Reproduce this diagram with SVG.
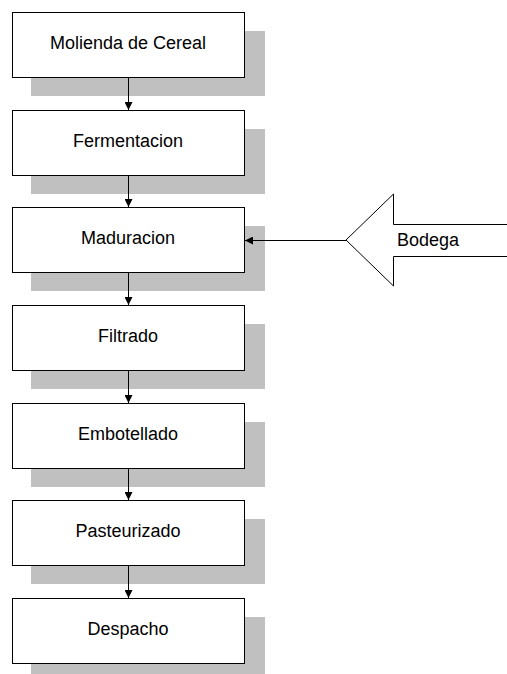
<svg xmlns="http://www.w3.org/2000/svg" width="507" height="674" viewBox="0 0 507 674">
<defs>
<style>
.sh{fill:#c0c0c0;stroke:none}
.bx{fill:#fff;stroke:#000;stroke-width:1}
.t{font-family:"Liberation Sans",Arial,sans-serif;font-size:18px;fill:#000;text-anchor:middle}
.c{stroke:#000;stroke-width:1;fill:none}
</style>
<marker id="ah" viewBox="0 0 10 10" refX="10" refY="5" markerWidth="8" markerHeight="8" markerUnits="userSpaceOnUse" orient="auto">
<path d="M0,0 L10,5 L0,10 z" fill="#000"/>
</marker>
</defs>
<rect width="507" height="674" fill="#fff"/>
<g id="n1"><rect class="sh" x="31" y="31" width="234" height="65"/><rect class="bx" x="12.5" y="12.5" width="232" height="65"/><text class="t" x="128" y="49">Molienda de Cereal</text></g>
<g id="n2"><rect class="sh" x="31" y="129" width="234" height="65"/><rect class="bx" x="12.5" y="110.5" width="232" height="65"/><text class="t" x="128" y="147">Fermentacion</text></g>
<g id="n3"><rect class="sh" x="31" y="226" width="234" height="65"/><rect class="bx" x="12.5" y="207.5" width="232" height="65"/><text class="t" x="128" y="244">Maduracion</text></g>
<g id="n4"><rect class="sh" x="31" y="324" width="234" height="65"/><rect class="bx" x="12.5" y="305.5" width="232" height="65"/><text class="t" x="128" y="342">Filtrado</text></g>
<g id="n5"><rect class="sh" x="31" y="422" width="234" height="65"/><rect class="bx" x="12.5" y="403.5" width="232" height="65"/><text class="t" x="128" y="440">Embotellado</text></g>
<g id="n6"><rect class="sh" x="31" y="519" width="234" height="65"/><rect class="bx" x="12.5" y="500.5" width="232" height="65"/><text class="t" x="128" y="537">Pasteurizado</text></g>
<g id="n7"><rect class="sh" x="31" y="617" width="234" height="65"/><rect class="bx" x="12.5" y="598.5" width="232" height="65"/><text class="t" x="128" y="635">Despacho</text></g>
<g id="bodega"><path class="bx" d="M507,224.5 L393.5,224.5 L393.5,194 L346,240 L393.5,286 L393.5,256.5 L507,256.5"/><text class="t" x="428" y="246">Bodega</text></g>
<g id="connectors">
<line class="c" x1="128.5" y1="78" x2="128.5" y2="110" marker-end="url(#ah)"/>
<line class="c" x1="128.5" y1="176" x2="128.5" y2="207" marker-end="url(#ah)"/>
<line class="c" x1="128.5" y1="273" x2="128.5" y2="305" marker-end="url(#ah)"/>
<line class="c" x1="128.5" y1="371" x2="128.5" y2="403" marker-end="url(#ah)"/>
<line class="c" x1="128.5" y1="469" x2="128.5" y2="500" marker-end="url(#ah)"/>
<line class="c" x1="128.5" y1="566" x2="128.5" y2="598" marker-end="url(#ah)"/>
<line class="c" x1="346" y1="240.5" x2="245" y2="240.5" marker-end="url(#ah)"/>
</g>
</svg>
